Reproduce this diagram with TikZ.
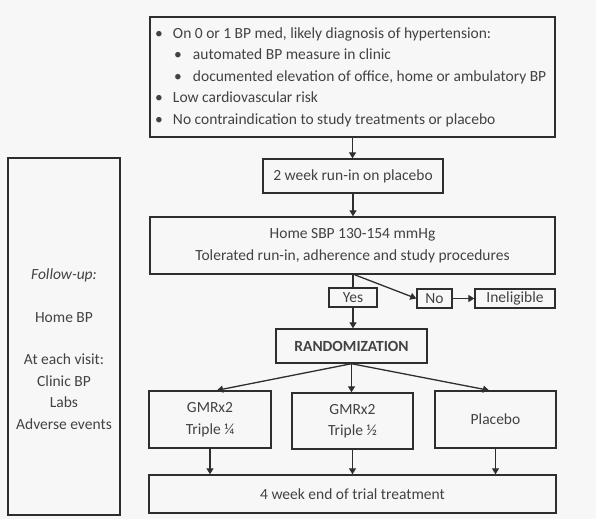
\documentclass[tikz,border=0pt]{standalone}
\usepackage{fontspec}
\setmainfont{Carlito}
\usetikzlibrary{arrows.meta}
\definecolor{bg}{HTML}{F7F7F7}
\definecolor{ln}{HTML}{2E2E2E}
\definecolor{tx}{HTML}{424242}
\begin{document}
\begin{tikzpicture}[x=1pt,y=-1pt,
  box/.style={draw=ln, line width=1.4pt, inner sep=0pt, align=center, text=tx},
  arr/.style={draw=ln, line width=1.3pt, -{Triangle[length=6pt,width=7pt]}},
  plain/.style={draw=ln, line width=1.3pt},
  every node/.style={font=\fontsize{15.5}{21.5}\selectfont}]
\fill[bg] (0,0) rectangle (596,519);
\useasboundingbox (0,0) rectangle (596,519);

\node[box, minimum width=405pt, minimum height=120pt, align=left] (crit) at (352.5,77)
 {\parbox{395pt}{\fontsize{15.5}{21.5}\selectfont
  \makebox[18pt][l]{•}On 0 or 1 BP med, likely diagnosis of hypertension:\\
  \hspace*{19pt}\makebox[19pt][l]{•}automated BP measure in clinic\\
  \hspace*{19pt}\makebox[19pt][l]{•}documented elevation of office, home or ambulatory BP\\
  \makebox[18pt][l]{•}Low cardiovascular risk\\
  \makebox[18pt][l]{•}No contraindication to study treatments or placebo}};

\node[box, minimum width=180pt, minimum height=34pt] (runin) at (353,176) {2 week run-in on placebo};
\node[box, minimum width=405pt, minimum height=57pt] (home) at (352.5,245.5)
 {Home SBP 130-154 mmHg\\Tolerated run-in, adherence and study procedures};
\node[box, minimum width=48pt, minimum height=19pt] (yes) at (353,297.5) {Yes};
\node[box, minimum width=35pt, minimum height=19pt] (no) at (434.5,298.5) {No};
\node[box, minimum width=80pt, minimum height=19pt] (inel) at (515,298.5) {Ineligible};
\node[box, minimum width=151pt, minimum height=34pt, font=\fontsize{15.5}{21.5}\selectfont\bfseries] (rand) at (351.5,346) {RANDOMIZATION};
\node[box, minimum width=122pt, minimum height=57pt] (g1) at (210,419.5) {GMRx2\\Triple ¼};
\node[box, minimum width=121pt, minimum height=56pt] (g2) at (352.5,421) {GMRx2\\Triple ½};
\node[box, minimum width=121pt, minimum height=57pt] (plac) at (495.5,419.5) {Placebo};
\node[box, minimum width=407pt, minimum height=38pt] (final) at (352.5,494) {4 week end of trial treatment};

\node[box, minimum width=112pt, minimum height=357pt] (fubox) at (64,336.5) {};
\node[align=center, text=tx, inner sep=0pt] (futext) at (64,349)
 {\textit{Follow-up:}\\[21pt]Home BP\\[21pt]At each visit:\\Clinic BP\\Labs\\Adverse events};

\draw[arr] (crit.south) -- (crit.south |- runin.north);
\draw[arr] (runin.south) -- (runin.south |- home.north);
\draw[plain] (yes.north |- home.south) -- (yes.north);
\draw[arr] ([xshift=2pt]home.south) -- (no.west);
\draw[arr] (no.east) -- (inel.west);
\draw[arr] (yes.south) -- (yes.south |- rand.north);
\draw[arr] (rand.south) -- ([xshift=7pt]g1.north);
\draw[arr] (rand.south) -- (rand.south |- g2.north);
\draw[arr] (rand.south) -- ([xshift=-6.5pt]plac.north);
\draw[arr] (g1.south) -- (g1.south |- final.north);
\draw[arr] (g2.south) -- (g2.south |- final.north);
\draw[arr] (plac.south) -- (plac.south |- final.north);
\end{tikzpicture}
\end{document}
